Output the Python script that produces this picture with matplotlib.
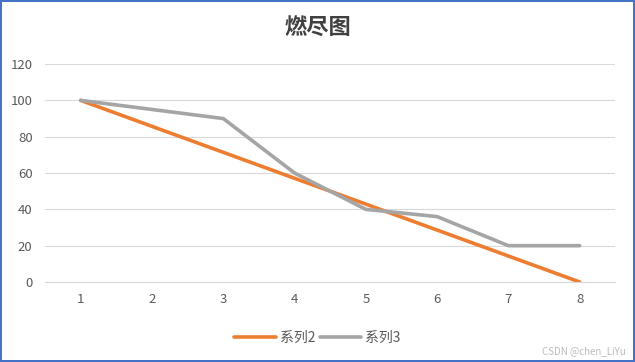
import matplotlib.pyplot as plt

plt.rcParams['font.family'] = ['Noto Sans CJK SC', 'DejaVu Sans']

x = [1, 2, 3, 4, 5, 6, 7, 8]
series2 = [100, 85.7, 71.4, 57.1, 42.9, 28.6, 14.3, 0]
series3 = [100, 95, 90, 60, 40, 36, 20, 20]

fig = plt.figure(figsize=(6.35, 3.62), dpi=100)
fig.patch.set_edgecolor('#4472C4')
fig.patch.set_linewidth(1.5)
ax = fig.add_axes([0.071, 0.221, 0.898, 0.602])

ax.plot(x, series2, color='#ED7D31', linewidth=2.6, label='系列2', solid_capstyle='round')
ax.plot(x, series3, color='#A5A5A5', linewidth=2.6, label='系列3', solid_capstyle='round')

ax.set_xlim(0.5, 8.5)
ax.set_ylim(0, 120)
ax.set_yticks(range(0, 121, 20))
ax.set_xticks(x)
ax.grid(axis='y', color='#D9D9D9', linewidth=0.8)
ax.set_axisbelow(True)
for s in ['top', 'right', 'left']:
    ax.spines[s].set_visible(False)
ax.spines['bottom'].set_color('#D9D9D9')
ax.tick_params(length=0, colors='#595959', labelsize=9.5)
ax.tick_params(axis='x', pad=8)
ax.tick_params(axis='y', pad=9)

fig.text(0.5, 0.922, '燃尽图', ha='center', va='center', fontsize=16, fontweight='bold', color='#404040')
fig.legend(loc='center', bbox_to_anchor=(0.5, 0.068), ncol=2, frameon=False,
           fontsize=10, labelcolor='#595959', handlelength=3, handletextpad=0.3, columnspacing=0.3)
fig.text(0.985, 0.03, 'CSDN @chen_LiYu', ha='right', va='center', fontsize=7, color='#BBBBBB')

fig.savefig('out.png', dpi=100)
